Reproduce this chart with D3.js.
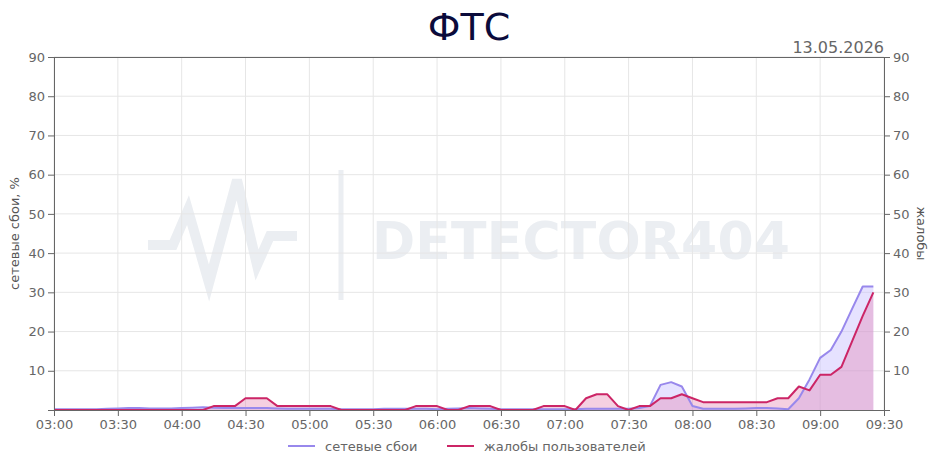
<!DOCTYPE html>
<html>
<head>
<meta charset="utf-8">
<script src="https://cdn.jsdelivr.net/npm/d3@7"></script>
<style>
  body { margin: 0; background: #fff; }
  svg text { font-family: "DejaVu Sans", sans-serif; }
</style>
</head>
<body>
<div id="app"></div>
<script>
// шаг 5 минут, 03:00 .. 09:25
const start = new Date(2026, 4, 13, 3, 0);
const times = d3.timeMinute.every(5).range(start, new Date(2026, 4, 13, 9, 30));

// сетевые сбои, %
const outages = [
  0.2, 0.2, 0.2, 0.2, 0.2, 0.3, 0.4, 0.5, 0.5, 0.4,
  0.4, 0.4, 0.5, 0.6, 0.7, 0.6, 0.5, 0.5, 0.5, 0.5,
  0.5, 0.4, 0.3, 0.3, 0.3, 0.3, 0.3, 0.2, 0.2, 0.2,
  0.2, 0.3, 0.3, 0.3, 0.3, 0.3, 0.2, 0.3, 0.4, 0.5,
  0.4, 0.3, 0.2, 0.2, 0.2, 0.2, 0.2, 0.2, 0.2, 0.2,
  0.3, 0.3, 0.3, 0.3, 0.3, 0.5, 1.0, 6.4, 7.1, 6.0,
  1.0, 0.3, 0.3, 0.3, 0.3, 0.4, 0.5, 0.5, 0.4, 0.2,
  3.0, 7.8, 13.3, 15.3, 20.0, 25.8, 31.5, 31.5
];

// жалобы пользователей
const complaints = [
  0, 0, 0, 0, 0, 0, 0, 0, 0, 0,
  0, 0, 0, 0, 0, 1, 1, 1, 3, 3,
  3, 1, 1, 1, 1, 1, 1, 0, 0, 0,
  0, 0, 0, 0, 1, 1, 1, 0, 0, 1,
  1, 1, 0, 0, 0, 0, 1, 1, 1, 0,
  3, 4, 4, 1, 0, 1, 1, 3, 3, 4,
  3, 2, 2, 2, 2, 2, 2, 2, 3, 3,
  6, 5, 9, 9, 11, 17.5, 24, 30
];

const yTicks = [10, 20, 30, 40, 50, 60, 70, 80, 90];

const wrapper = { width: 938, height: 468 };
const margin = { left: 54, top: 57, right: 54, bottom: 58 };
const bounds = {
  width: wrapper.width - margin.left - margin.right,
  height: wrapper.height - margin.top - margin.bottom
};

const svg = d3.select('#app')
  .append('svg')
    .attr('width', wrapper.width)
    .attr('height', wrapper.height);

// водяной знак
const wm = svg.append('g').attr('fill', 'none').attr('stroke', '#ebeef2');
wm.append('polyline')
  .attr('points', '148,245 173,245 188,210 209,283 237,180 257,265 270,236 297,236')
  .attr('stroke-width', 10)
  .attr('stroke-linejoin', 'miter');
wm.append('line')
  .attr('x1', 341).attr('x2', 341).attr('y1', 170).attr('y2', 300)
  .attr('stroke-width', 5);
svg.append('text')
  .attr('x', 372).attr('y', 259)
  .attr('fill', '#ebeef2')
  .attr('textLength', 418)
  .style('font-size', '52px')
  .style('font-weight', 'bold')
  .text('DETECTOR404');

const g = svg.append('g')
  .attr('transform', `translate(${margin.left}, ${margin.top})`);

const x = d3.scaleTime()
  .domain([start, new Date(2026, 4, 13, 9, 30)])
  .range([0, bounds.width]);

const y = d3.scaleLinear()
  .domain([0, 90])
  .range([bounds.height, 0]);

// сетка
g.append('g')
  .selectAll('line')
  .data(yTicks)
  .join('line')
    .attr('x1', 0).attr('x2', bounds.width)
    .attr('y1', d => y(d)).attr('y2', d => y(d))
    .attr('stroke', '#e6e6e6');

const xTicks = x.ticks(d3.timeMinute.every(30));
g.append('g')
  .selectAll('line')
  .data(xTicks)
  .join('line')
    .attr('x1', d => x(d)).attr('x2', d => x(d))
    .attr('y1', 0).attr('y2', bounds.height)
    .attr('stroke', '#e6e6e6');

// области
const series = [
  { values: outages, line: '#9888ec', fill: 'rgba(200,190,255,0.45)' },
  { values: complaints, line: '#cc2566', fill: 'rgba(225,120,170,0.35)' }
];

series.forEach(s => {
  const pts = times.map((t, i) => [t, s.values[i]]);
  g.append('path')
    .datum(pts)
    .attr('fill', s.fill)
    .attr('d', d3.area().x(d => x(d[0])).y0(y(0)).y1(d => y(d[1])));
});

series.forEach(s => {
  const pts = times.map((t, i) => [t, s.values[i]]);
  g.append('path')
    .datum(pts)
    .attr('fill', 'none')
    .attr('stroke', s.line)
    .attr('stroke-width', 2)
    .attr('stroke-linejoin', 'round')
    .attr('d', d3.line().x(d => x(d[0])).y(d => y(d[1])));
});

// оси
function styleAxis(sel) {
  sel.selectAll('path, line').attr('stroke', '#666');
  sel.selectAll('text').attr('fill', '#666').style('font-size', '13px');
}

g.append('g')
  .call(d3.axisLeft(y).tickValues(yTicks).tickSize(6).tickPadding(3))
  .call(styleAxis);

g.append('g')
  .attr('transform', `translate(${bounds.width}, 0)`)
  .call(d3.axisRight(y).tickValues(yTicks).tickSize(6).tickPadding(3))
  .call(styleAxis);

g.append('g')
  .attr('transform', `translate(0, ${bounds.height})`)
  .call(d3.axisBottom(x).tickValues(xTicks).tickFormat(d3.timeFormat('%H:%M')).tickSize(6).tickPadding(4))
  .call(styleAxis);

g.append('line')
  .attr('x1', 0).attr('x2', bounds.width)
  .attr('y1', 0.5).attr('y2', 0.5)
  .attr('stroke', '#666');

// подписи
svg.append('text')
  .attr('x', wrapper.width / 2).attr('y', 40)
  .attr('text-anchor', 'middle')
  .attr('fill', '#0b0b3b')
  .style('font-size', '38px')
  .text('ФТС');

svg.append('text')
  .attr('x', 884).attr('y', 53)
  .attr('text-anchor', 'end')
  .attr('fill', '#666')
  .style('font-size', '16px')
  .text('13.05.2026');

svg.append('text')
  .attr('transform', `translate(19, ${margin.top + bounds.height / 2}) rotate(-90)`)
  .attr('text-anchor', 'middle')
  .attr('fill', '#555')
  .style('font-size', '13px')
  .text('сетевые сбои, %');

svg.append('text')
  .attr('transform', `translate(917, ${margin.top + bounds.height / 2}) rotate(90)`)
  .attr('text-anchor', 'middle')
  .attr('fill', '#555')
  .style('font-size', '13px')
  .text('жалобы');

// легенда
const legend = svg.append('g').attr('transform', 'translate(0, 446)');
const items = [
  { label: 'сетевые сбои', color: '#9888ec', x: 288 },
  { label: 'жалобы пользователей', color: '#cc2566', x: 447 }
];
items.forEach(it => {
  legend.append('line')
    .attr('x1', it.x).attr('x2', it.x + 27)
    .attr('stroke', it.color).attr('stroke-width', 2);
  legend.append('text')
    .attr('x', it.x + 37).attr('y', 4.5)
    .attr('fill', '#666')
    .style('font-size', '13px')
    .text(it.label);
});
</script>
</body>
</html>
